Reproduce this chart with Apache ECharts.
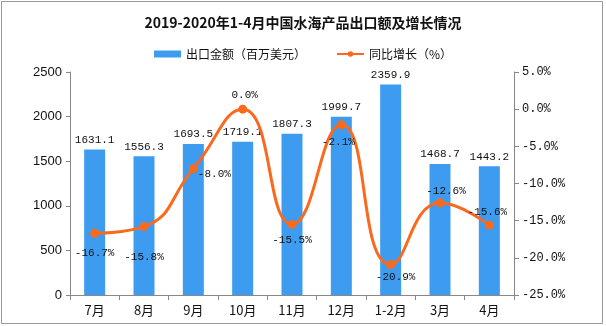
<!DOCTYPE html>
<html><head><meta charset="utf-8">
<script src="https://cdn.jsdelivr.net/npm/echarts@6/dist/echarts.min.js"></script>
<style>html,body{margin:0;padding:0;background:#fff}#c{width:606px;height:326px}</style>
</head><body><div id="c"></div>
<script>
const categories = ['7月','8月','9月','10月','11月','12月','1-2月','3月','4月'];
const exportValues = [1631.1, 1556.3, 1693.5, 1719.1, 1807.3, 1999.7, 2359.9, 1468.7, 1443.2];
const growthValues = [-16.7, -15.8, -8.0, 0.0, -15.5, -2.1, -20.9, -12.6, -15.6];
const labelPlacement = [
  {position:'bottom', distance:10, offset:[0,0]},
  {position:'bottom', distance:20, offset:[0,0]},
  {position:'right', distance:-6, offset:[6,5]},
  {position:'top', distance:4, offset:[2,0]},
  {position:'bottom', distance:6, offset:[0,0]},
  {position:'bottom', distance:7, offset:[-3,0]},
  {position:'bottom', distance:3, offset:[5,0]},
  {position:'top', distance:2, offset:[6,0]},
  {position:'top', distance:3, offset:[-2,0]}
];
const monoFont = '"Liberation Mono", "DejaVu Sans Mono", monospace';
const chart = echarts.init(document.getElementById('c'), null, {renderer:'canvas'});
chart.setOption({
  animation:false,
  backgroundColor:'#fff',
  title:{text:'2019-2020年1-4月中国水海产品出口额及增长情况', left:'center', top:11,
    textStyle:{fontFamily:'"Noto Sans CJK SC"', fontWeight:'bold', fontSize:14, color:'#111'}},
  legend:{top:43, left:'center', itemGap:30, itemWidth:27, itemHeight:7,
    textStyle:{fontFamily:'"Noto Sans CJK SC"', fontSize:12, color:'#111'},
    data:[{name:'出口金额（百万美元）', icon:'rect'}, {name:'同比增长（%）'}]},
  grid:{left:70, right:92, top:72, bottom:31},
  xAxis:{type:'category', data:categories,
    axisLine:{lineStyle:{color:'#888'}},
    axisTick:{show:true, alignWithLabel:false, length:5, lineStyle:{color:'#888'}},
    axisLabel:{fontFamily:'"Noto Sans CJK SC"', fontSize:13, color:'#111', margin:9}},
  yAxis:[
    {type:'value', min:0, max:2500, interval:500, splitLine:{show:false},
      axisLine:{show:true, lineStyle:{color:'#888'}},
      axisTick:{show:true, length:4, lineStyle:{color:'#888'}},
      axisLabel:{fontFamily:'"Liberation Sans", Arial', fontSize:13, color:'#111', margin:8,
        formatter:v=>String(v)}},
    {type:'value', min:-25, max:5, interval:5, splitLine:{show:false},
      axisLine:{show:true, lineStyle:{color:'#888'}},
      axisTick:{show:true, length:5, lineStyle:{color:'#888'}},
      axisLabel:{fontFamily:monoFont, fontSize:12, color:'#111', margin:8,
        formatter:v=>v.toFixed(1)+'%'}}
  ],
  series:[
    {name:'出口金额（百万美元）', type:'bar', data:exportValues, barWidth:21,
      itemStyle:{color:'#3E9CF0'},
      label:{show:true, position:'top', distance:4, fontFamily:monoFont, fontSize:11, color:'#111',
        formatter:p=>p.value.toFixed(1)}},
    {name:'同比增长（%）', type:'line', yAxisIndex:1, smooth:0.5, symbol:'circle', symbolSize:9,
      lineStyle:{width:3, color:'#F96A1F'}, itemStyle:{color:'#F96A1F'},
      data:growthValues.map((v,i)=>({value:v, label:Object.assign({show:true}, labelPlacement[i])})),
      label:{fontFamily:monoFont, fontSize:11, color:'#111', formatter:p=>p.value.toFixed(1)+'%'}}
  ],
  graphic:[{type:'rect', shape:{x:1.5, y:1.5, width:601, height:322}, style:{fill:'none', stroke:'#999', lineWidth:1}, silent:true}]
});
</script></body></html>
